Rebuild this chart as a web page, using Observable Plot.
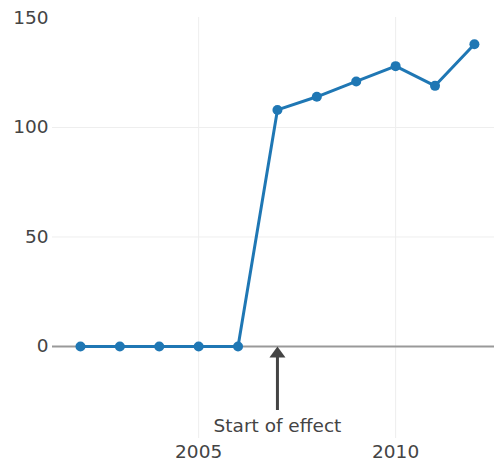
<!DOCTYPE html>
<html>
<head>
<meta charset="utf-8">
<script src="https://cdn.jsdelivr.net/npm/d3@7"></script>
<script src="https://cdn.jsdelivr.net/npm/@observablehq/plot@0.6"></script>
<style>
  html, body { margin: 0; padding: 0; background: #fff; }
  #chart svg { display: block; }
</style>
</head>
<body>
<div id="chart"></div>
<script>
const years = [2002, 2003, 2004, 2005, 2006, 2007, 2008, 2009, 2010, 2011, 2012];
const values = [0, 0, 0, 0, 0, 108, 114, 121, 128, 119, 138];
const xTicks = [2005, 2010];
const yTicks = [0, 50, 100, 150];
const yGrid = [50, 100];
const annotX = [2007];
const annotTipY = [0];
const annotTailY = [-29];
const annotLabelY = [-36.5];
const annotText = ["Start of effect"];

const data = years.map((y, i) => ({year: y, value: values[i]}));
const annot = annotX.map((x, i) => ({x, tip: annotTipY[i], tail: annotTailY[i], ly: annotLabelY[i], text: annotText[i]}));

const arrowHead = {
  draw(ctx) {
    ctx.moveTo(0, 0);
    ctx.lineTo(-8, 11);
    ctx.lineTo(8, 11);
    ctx.closePath();
  }
};

const chart = Plot.plot({
  width: 494,
  height: 466,
  marginLeft: 52,
  marginRight: 0,
  marginTop: 17,
  marginBottom: 28,
  style: {fontFamily: "DejaVu Sans", color: "#444", background: "#fff"},
  x: {type: "linear", domain: [2001.29, 2012.51]},
  y: {domain: [-42, 150.2]},
  marks: [
    Plot.gridX(xTicks, {stroke: "#eee", strokeOpacity: 1, strokeWidth: 1}),
    Plot.gridY(yGrid, {stroke: "#eee", strokeOpacity: 1, strokeWidth: 1}),
    Plot.ruleY([0], {stroke: "#999", strokeWidth: 2}),
    Plot.axisY(yTicks, {tickSize: 0, tickPadding: 4, fontSize: 18.5, fill: "#444"}),
    Plot.axisX(xTicks, {tickSize: 0, tickPadding: 6, fontSize: 18.5, fill: "#444", tickFormat: "d"}),
    Plot.link(annot, {x1: "x", x2: "x", y1: "tail", y2: d => d.tip - 3, stroke: "#444", strokeWidth: 3}),
    Plot.dot(annot, {x: "x", y: "tip", symbol: arrowHead, fill: "#444", stroke: null, r: 5}),
    Plot.text(annot, {x: "x", y: "ly", text: "text", fontSize: 18.5, fill: "#444"}),
    Plot.line(data, {x: "year", y: "value", stroke: "#1f77b4", strokeWidth: 3}),
    Plot.dot(data, {x: "year", y: "value", fill: "#1f77b4", r: 5})
  ]
});
document.getElementById("chart").append(chart);
</script>
</body>
</html>
